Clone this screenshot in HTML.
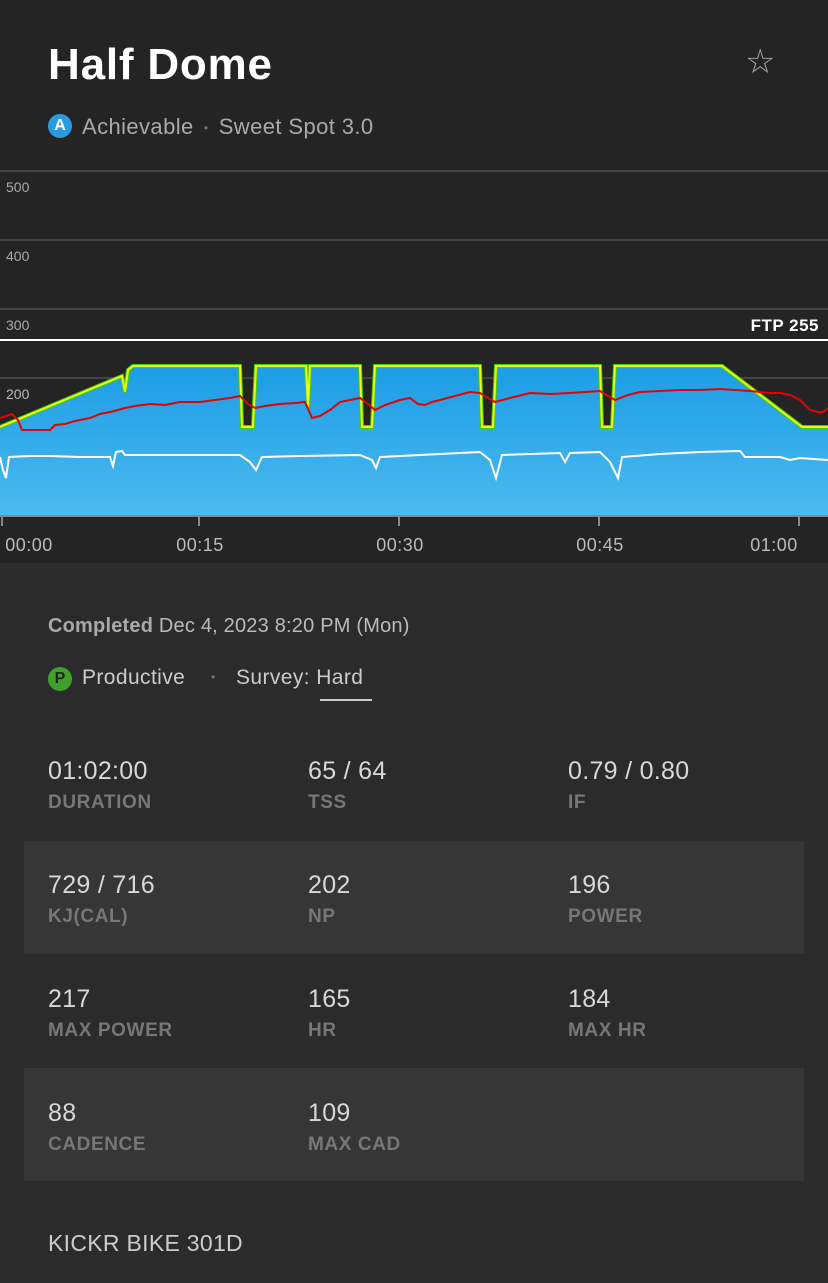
<!DOCTYPE html><html><head><style>
body{margin:0;width:828px;height:1283px;background:#2b2b2b;font-family:"Liberation Sans",sans-serif;overflow:hidden;position:relative}
.top{position:absolute;left:0;top:0;width:828px;height:563px;background:#242424}
.t{position:absolute;white-space:nowrap}
.row{position:absolute;left:24px;width:780px;height:113px}
.v{position:absolute;font-size:25px;color:#d8d8d8;letter-spacing:0.3px}
.l{position:absolute;font-size:19px;font-weight:bold;color:#777;letter-spacing:0.6px}
</style></head><body>
<div class="top"></div>
<div class="t" style="left:48px;top:40px;font-size:44px;font-weight:bold;color:#fff;letter-spacing:0.8px">Half Dome</div>
<div class="t" style="left:745px;top:42px;font-size:34px;color:#aaa">☆</div>
<div class="t" style="left:48px;top:114px;width:24px;height:24px;border-radius:12px;background:#2a9be0;color:#fff;font-size:16px;font-weight:bold;text-align:center;line-height:24px">A</div>
<div class="t" style="left:82px;top:114px;font-size:22px;color:#aaa;letter-spacing:0.4px">Achievable <span style="font-size:12px;vertical-align:middle;color:#777">&nbsp;•&nbsp;</span> Sweet Spot 3.0</div>
<svg style="position:absolute;left:0;top:0" width="828" height="563">
<defs><linearGradient id="g" x1="0" y1="0" x2="0" y2="1"><stop offset="0" stop-color="#1c9de6"/><stop offset="1" stop-color="#4cbaee"/></linearGradient></defs>
<g stroke="#444" stroke-width="2"><line x1="0" y1="171" x2="828" y2="171"/><line x1="0" y1="240" x2="828" y2="240"/><line x1="0" y1="309" x2="828" y2="309"/><line x1="0" y1="378" x2="828" y2="378"/></g>
<g fill="#aaa" font-size="14" font-family="Liberation Sans"><text x="6" y="192">500</text><text x="6" y="261">400</text><text x="6" y="330">300</text></g>
<polygon fill="url(#g)" points="0,427 122,376 125,392 128,370 133,366 240,366 242,427 253,427 256,366 306,366 308,407 310,366 360,366 362,427 372,427 375,366 480,366 482,427 493,427 496,366 600,366 602,427 612,427 615,366 722,366 802,427 828,427 828,516 0,516"/>
<text x="6" y="399" fill="#bbb" font-size="14" font-family="Liberation Sans">200</text>
<line x1="0" y1="340" x2="828" y2="340" stroke="#fff" stroke-width="2"/>
<text x="819" y="331" fill="#fff" font-size="17" font-weight="bold" text-anchor="end" font-family="Liberation Sans" letter-spacing="0.5">FTP 255</text>
<polyline fill="none" stroke="#3ed000" stroke-width="4" points="0,427 122,376 125,392 128,370 133,366 240,366 242,427 253,427 256,366 306,366 308,407 310,366 360,366 362,427 372,427 375,366 480,366 482,427 493,427 496,366 600,366 602,427 612,427 615,366 722,366 802,427 828,427"/>
<polyline fill="none" stroke="#f2f520" stroke-width="2" points="0,427 122,376 125,392 128,370 133,366 240,366 242,427 253,427 256,366 306,366 308,407 310,366 360,366 362,427 372,427 375,366 480,366 482,427 493,427 496,366 600,366 602,427 612,427 615,366 722,366 802,427 828,427"/>
<polyline fill="none" stroke="#e80000" stroke-width="2" points="0,418 6,416 12,414 18,420 22,430 50,430 55,425 65,424 75,421 80,420 90,418 100,414 110,412 118,410 125,408 135,406 150,404 165,405 180,402 200,402 215,400 230,398 240,396 248,404 255,408 265,406 280,404 295,403 305,402 312,418 320,416 330,410 340,402 350,400 360,398 368,404 375,410 385,405 400,400 410,398 418,404 425,405 432,402 440,400 455,396 470,392 480,393 488,398 495,402 510,398 530,393 550,394 570,393 585,392 600,391 608,396 615,400 628,395 640,392 660,391 680,390 700,390 720,389 735,390 750,391 770,393 780,393 790,395 800,400 810,410 818,412 823,412 828,408"/>
<polyline fill="none" stroke="#fff" stroke-width="2" points="0,457 3,470 6,478 9,457 30,456 50,456 80,457 110,457 113,466 116,452 122,451 125,455 180,455 240,455 250,462 256,470 262,457 300,456 360,455 372,460 376,468 380,457 420,455 480,452 490,460 496,478 502,455 560,453 565,462 570,453 600,452 610,462 618,478 622,457 660,454 700,452 740,451 745,457 780,457 790,460 800,458 828,460"/>
<line x1="0" y1="516" x2="828" y2="516" stroke="#888" stroke-width="2"/>
<g stroke="#888" stroke-width="2"><line x1="2" y1="516" x2="2" y2="526"/><line x1="199" y1="516" x2="199" y2="526"/><line x1="399" y1="516" x2="399" y2="526"/><line x1="599" y1="516" x2="599" y2="526"/><line x1="799" y1="516" x2="799" y2="526"/></g>
<g fill="#bbb" font-size="18" font-family="Liberation Sans" text-anchor="middle" letter-spacing="0.5"><text x="29" y="551">00:00</text><text x="200" y="551">00:15</text><text x="400" y="551">00:30</text><text x="600" y="551">00:45</text><text x="774" y="551">01:00</text></g>
</svg>
<div class="t" style="left:48px;top:615px;font-size:20px;color:#bbb;letter-spacing:0.2px"><b style="color:#aaa">Completed</b> Dec 4, 2023 8:20 PM (Mon)</div>
<div class="t" style="left:48px;top:667px;width:24px;height:24px;border-radius:12px;background:#3fa12a;color:#222;font-size:16px;font-weight:bold;text-align:center;line-height:24px">P</div>
<div class="t" style="left:82px;top:666px;font-size:21px;color:#ccc;letter-spacing:0.4px">Productive</div>
<div class="t" style="left:211px;top:670px;font-size:12px;color:#777">•</div>
<div class="t" style="left:236px;top:666px;font-size:21px;color:#ccc;letter-spacing:0.4px">Survey: Hard</div>
<div class="t" style="left:320px;top:699px;width:52px;height:2px;background:#ccc"></div>
<div class="row" style="top:727px"></div>
<div class="row" style="top:841px;background:#363636"></div>
<div class="row" style="top:1068px;background:#363636"></div>
<div class="v" style="left:48px;top:757px">01:02:00</div><div class="l" style="left:48px;top:792px">DURATION</div>
<div class="v" style="left:308px;top:757px">65 / 64</div><div class="l" style="left:308px;top:792px">TSS</div>
<div class="v" style="left:568px;top:757px">0.79 / 0.80</div><div class="l" style="left:568px;top:792px">IF</div>
<div class="v" style="left:48px;top:871px">729 / 716</div><div class="l" style="left:48px;top:906px">KJ(CAL)</div>
<div class="v" style="left:308px;top:871px">202</div><div class="l" style="left:308px;top:906px">NP</div>
<div class="v" style="left:568px;top:871px">196</div><div class="l" style="left:568px;top:906px">POWER</div>
<div class="v" style="left:48px;top:985px">217</div><div class="l" style="left:48px;top:1020px">MAX POWER</div>
<div class="v" style="left:308px;top:985px">165</div><div class="l" style="left:308px;top:1020px">HR</div>
<div class="v" style="left:568px;top:985px">184</div><div class="l" style="left:568px;top:1020px">MAX HR</div>
<div class="v" style="left:48px;top:1099px">88</div><div class="l" style="left:48px;top:1134px">CADENCE</div>
<div class="v" style="left:308px;top:1099px">109</div><div class="l" style="left:308px;top:1134px">MAX CAD</div>
<div class="t" style="left:48px;top:1230px;font-size:23px;color:#ccc;letter-spacing:0.3px">KICKR BIKE 301D</div>
</body></html>
